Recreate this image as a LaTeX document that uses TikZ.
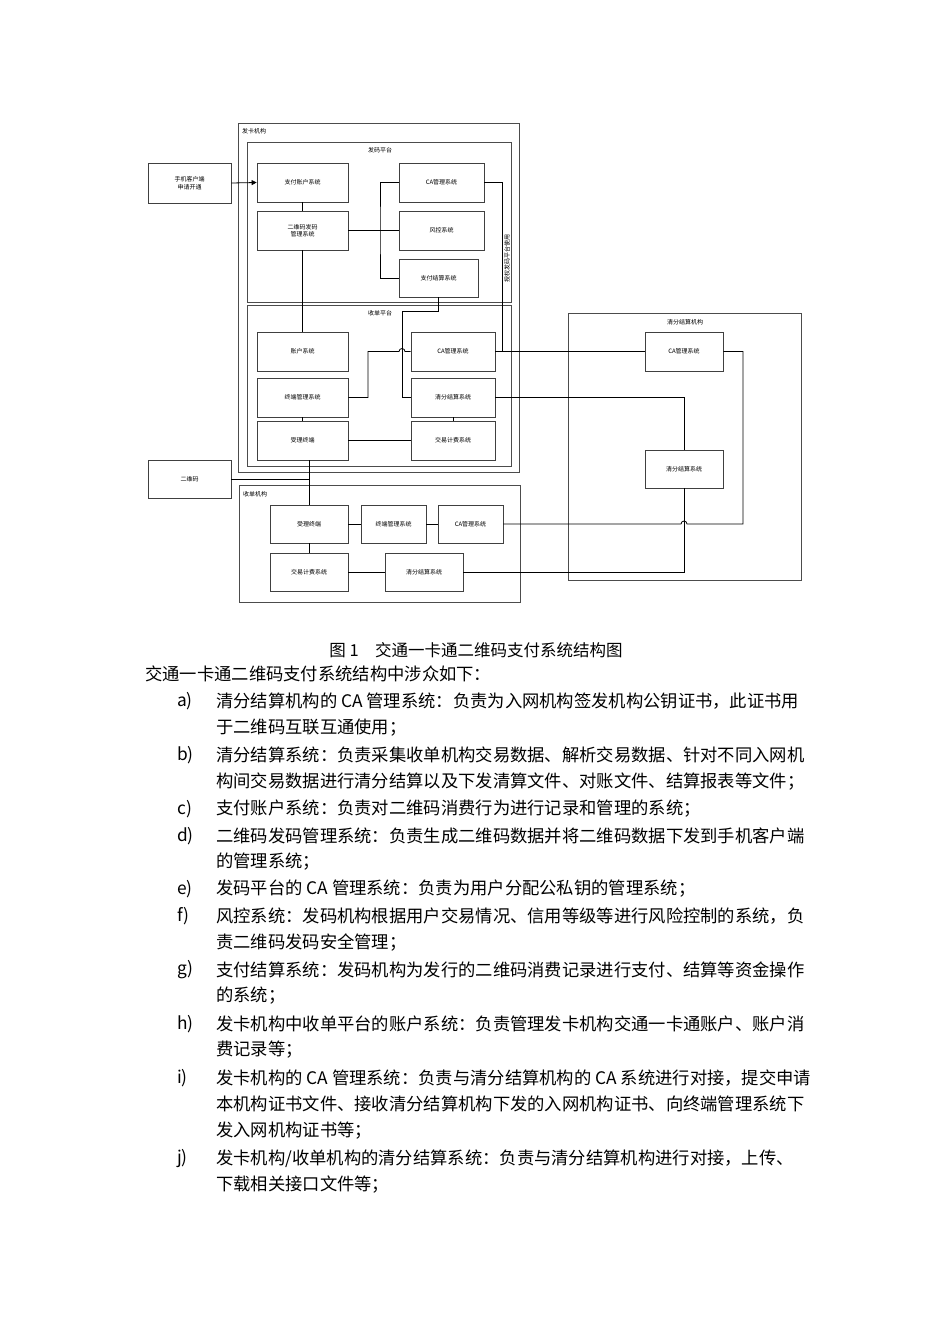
\documentclass[tikz,border=0pt]{standalone}
\usepackage{fontspec}
\setmainfont{Noto Sans CJK SC}
\usetikzlibrary{arrows.meta}
\begin{document}
\begin{tikzpicture}[x=1pt,y=-1pt,
  bx/.style={draw=black!75,line width=0.8pt,font=\fontsize{6}{7.5}\selectfont,align=center,inner sep=0pt},
  cont/.style={draw=black!70,line width=1pt},
  ln/.style={line width=0.8pt,black},
  lbl/.style={font=\fontsize{6}{7}\selectfont,inner sep=1pt},
  body/.style={anchor=west,font=\fontsize{17.3}{19}\selectfont,inner sep=0pt}]
\useasboundingbox[fill=white] (0,0) rectangle (950,1344);
% containers
\draw[cont] (238,123) rectangle (519,472);
\draw[cont] (247,142) rectangle (511,302);
\draw[cont] (247,305) rectangle (511,466);
\draw[cont] (239,485) rectangle (520,602);
\draw[cont] (568,313) rectangle (801,580);
\node[lbl,anchor=west] (t1) at (241,131) {发卡机构};
\node[lbl] (t2) at (380,150) {发码平台};
\node[lbl] (t3) at (380,313) {收单平台};
\node[lbl,anchor=west] (t4) at (242,494) {收单机构};
\node[lbl] (t5) at (685,322) {清分结算机构};
% nodes
\node[bx,minimum width=83,minimum height=40] (phone) at (189.5,183) {手机客户端\\申请开通};
\node[bx,minimum width=91,minimum height=39] (zfzh) at (302.5,182.5) {支付账户系统};
\node[bx,minimum width=91,minimum height=39] (ewm) at (302.5,230.5) {二维码发码\\管理系统};
\node[bx,minimum width=85,minimum height=39] (ca1) at (441.5,182.5) {CA管理系统};
\node[bx,minimum width=85,minimum height=39] (fk) at (441.5,230.5) {风控系统};
\node[bx,minimum width=79,minimum height=38] (zfjs) at (438.5,278) {支付结算系统};
\node[bx,minimum width=91,minimum height=39] (zh) at (302.5,351.5) {账户系统};
\node[bx,minimum width=91,minimum height=39] (zd) at (302.5,397.5) {终端管理系统};
\node[bx,minimum width=91,minimum height=39] (sl) at (302.5,440.5) {受理终端};
\node[bx,minimum width=84,minimum height=39] (ca2) at (453,351.5) {CA管理系统};
\node[bx,minimum width=84,minimum height=39] (qf2) at (453,397.5) {清分结算系统};
\node[bx,minimum width=84,minimum height=39] (jy2) at (453,440.5) {交易计费系统};
\node[bx,minimum width=83,minimum height=38] (code) at (189.5,479) {二维码};
\node[bx,minimum width=78,minimum height=38] (sl3) at (309,524) {受理终端};
\node[bx,minimum width=65,minimum height=38] (zd3) at (393.5,524) {终端管理系统};
\node[bx,minimum width=65,minimum height=38] (ca3) at (470.5,524) {CA管理系统};
\node[bx,minimum width=78,minimum height=38] (jy3) at (309,572) {交易计费系统};
\node[bx,minimum width=78,minimum height=38] (qf3) at (424,572) {清分结算系统};
\node[bx,minimum width=78,minimum height=39] (ca4) at (684,351.5) {CA管理系统};
\node[bx,minimum width=78,minimum height=38] (qf4) at (684,469) {清分结算系统};
\coordinate (j1) at (380,230.5);
\coordinate (j2) at (309,479);
% connectors
\draw[ln,-{Triangle[length=5pt,width=5pt]}] (phone.east) -- (zfzh.west);
\draw[ln] (zfzh.south) -- (ewm.north);
\draw[line width=1.6pt] (ewm.east) -- (j1);
\draw[ln] (ca1.west) -| (j1) |- (zfjs.west);
\draw[ln] (j1) -- (fk.west);
\draw[ln] (ewm.south) -- (zh.north);
\draw[ln] (zfjs.south) |- (402,311) |- (qf2.west);
\draw[ln] (zd.east) -- (368,397.5) |- (399,351.5) arc[start angle=180,end angle=360,radius=3] -- (ca2.west);
\draw[ln] (ca1.east) -- (502,182.5) -- (502,351.5);
\node[lbl,rotate=90] (vt) at (507,258) {授权发码平台使用};
\draw[ln] (zd.south) -- (sl.north);
\draw[ln] (qf2.south) -- (jy2.north);
\draw[ln] (sl.east) -- (jy2.west);
\draw[ln] (ca2.east) -- (ca4.west);
\draw[ln] (qf2.east) -| (qf4.north);
\draw[ln] (code.east) -- (j2);
\draw[ln] (sl.south -| j2) -- (sl3.north);
\draw[ln] (sl3.east) -- (zd3.west);
\draw[ln] (zd3.east) -- (ca3.west);
\draw[ln] (sl3.south) -- (jy3.north);
\draw[ln] (jy3.east) -- (qf3.west);
\draw[ln] (ca3.east) -- (681,524) arc[start angle=180,end angle=360,radius=3] -- (743,524) |- (ca4.east);
\draw[ln] (qf3.east) -| (qf4.south);
% caption and text
\node[font=\fontsize{16.5}{18}\selectfont,inner sep=0pt] (cap) at (476,650) {图 1\quad 交通一卡通二维码支付系统结构图};
\node[body] (l0) at (145,674) {交通一卡通二维码支付系统结构中涉众如下：};
\foreach \y/\m/\t [count=\i] in {
701/a)/{清分结算机构的 CA 管理系统：负责为入网机构签发机构公钥证书，此证书用},
728//{于二维码互联互通使用；},
755/b)/{清分结算系统：负责采集收单机构交易数据、解析交易数据、针对不同入网机},
782//{构间交易数据进行清分结算以及下发清算文件、对账文件、结算报表等文件；},
809/c)/{支付账户系统：负责对二维码消费行为进行记录和管理的系统；},
836/d)/{二维码发码管理系统：负责生成二维码数据并将二维码数据下发到手机客户端},
862//{的管理系统；},
889/e)/{发码平台的 CA 管理系统：负责为用户分配公私钥的管理系统；},
916/f)/{风控系统：发码机构根据用户交易情况、信用等级等进行风险控制的系统，负},
943//{责二维码发码安全管理；},
970/g)/{支付结算系统：发码机构为发行的二维码消费记录进行支付、结算等资金操作},
996//{的系统；},
1024/h)/{发卡机构中收单平台的账户系统：负责管理发卡机构交通一卡通账户、账户消},
1050//{费记录等；},
1078/i)/{发卡机构的 CA 管理系统：负责与清分结算机构的 CA 系统进行对接，提交申请},
1104//{本机构证书文件、接收清分结算机构下发的入网机构证书、向终端管理系统下},
1131//{发入网机构证书等；},
1159/j)/{发卡机构/收单机构的清分结算系统：负责与清分结算机构进行对接，上传、},
1185//{下载相关接口文件等；}}{
  \node[body] (m\i) at (177,\y) {\m};
  \node[body] (b\i) at (216,\y) {\t};
}
\end{tikzpicture}
\end{document}
